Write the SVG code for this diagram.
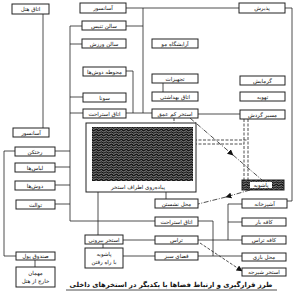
<svg xmlns="http://www.w3.org/2000/svg" width="300" height="294" viewBox="0 0 300 294">
<defs>
<style>
.b{fill:#fff;stroke:#222;stroke-width:1}
.t{font-family:"DejaVu Sans",sans-serif;font-size:5.5px;fill:#111;text-anchor:middle;direction:rtl}
.c{fill:none;stroke:#222;stroke-width:0.8}
.d{fill:none;stroke:#222;stroke-width:0.8;stroke-dasharray:3 1.5}
.dd{fill:none;stroke:#222;stroke-width:0.8;stroke-dasharray:5 1.5 1 1.5}
</style>
<pattern id="water" width="5" height="2.5" patternUnits="userSpaceOnUse">
<rect width="5" height="2.5" fill="#111"/>
<path d="M0,1.25 L1.25,0.6 L2.5,1.25 L3.75,1.9 L5,1.25" fill="none" stroke="#fff" stroke-width="0.6"/>
</pattern>
<marker id="ah" viewBox="0 0 10 10" refX="9" refY="5" markerWidth="6" markerHeight="6" orient="auto" markerUnits="userSpaceOnUse">
<path d="M0,0 L10,5 L0,10 z" fill="#111"/>
</marker>
<marker id="dot" viewBox="0 0 10 10" refX="5" refY="5" markerWidth="4" markerHeight="4" markerUnits="userSpaceOnUse">
<circle cx="5" cy="5" r="5" fill="#111"/>
</marker>
</defs>
<rect width="300" height="294" fill="#fff"/>

<g id="connectors">
<path class="c" d="M126,8 H239"/>
<path class="c" d="M285,8 H292 V201 H287"/>
<path class="c" d="M43,14 V128"/>
<path class="c" d="M70,26 V221 H155"/>
<path class="c" d="M70,26 H82 M70,44 H82 M70,97 H83 M70,113 H83"/>
<path class="c" d="M55,151 H70 M55,167 H70 M55,185 H70 M55,204 H70"/>
<path class="c" d="M143,8 V113 M126,26 H143"/>
<path class="c" d="M126,71 H133 V113 M126,113 H152"/>
<path class="c" d="M163,83 V92"/>
<path class="c" d="M198,114 H240"/>
<path class="d" d="M174,118 V157" marker-end="url(#dot)"/>
<path class="d" d="M244,119 V180 M248,119 V180 M194,140 H248 M194,144 H244"/>
<path class="dd" d="M190,118 L233,155" marker-end="url(#ah)"/>
<path class="dd" d="M233,155 L262,180"/>
<path class="dd" d="M250,190 L226,197" marker-end="url(#ah)"/>
<path class="dd" d="M226,197 L198,204"/>
<path class="c" d="M166,192 V199 M98,192 V235 M103,244 V248"/>
<path class="c" d="M123,240 H155 M123,256 H155"/>
<path class="c" d="M35,260 V267"/>
<path class="c" d="M15,151 H4 V256 H16"/>
<path class="c" d="M242,204 H228 V240 M228,222 H242 M198,240 H242 M198,256 H242"/>
<path class="c" d="M198,221 H213 V256"/>
<path class="d" d="M200,243 L242,271" marker-end="url(#ah)"/>
</g>

<g id="pool">
<rect class="b" x="86" y="123" width="110" height="69"/>
<rect x="92" y="127" width="101" height="54" fill="url(#water)"/>
<text class="t" x="138" y="189">پیاده‌روی اطراف استخر</text>
</g>

<g id="hotel"><rect class="b" x="12" y="4" width="37" height="10"/><text class="t" x="30.5" y="11">اتاق هتل</text></g>
<g id="elev1"><rect class="b" x="80" y="3" width="46" height="10"/><text class="t" x="103" y="10">آسانسور</text></g>
<g id="reception"><rect class="b" x="239" y="3" width="46" height="10"/><text class="t" x="262" y="10">پذیرش</text></g>
<g id="tennis"><rect class="b" x="82" y="21" width="44" height="9"/><text class="t" x="104" y="27.5">سالن تنیس</text></g>
<g id="gym"><rect class="b" x="82" y="39" width="44" height="9"/><text class="t" x="104" y="45.5">سالن ورزش</text></g>
<g id="hair"><rect class="b" x="152" y="39" width="46" height="9"/><text class="t" x="175" y="45.5">آرایشگاه مو</text></g>
<g id="showerarea"><rect class="b" x="83" y="67" width="43" height="9"/><text class="t" x="104.5" y="73.5">محوطه دوش‌ها</text></g>
<g id="equip"><rect class="b" x="152" y="74" width="46" height="9"/><text class="t" x="175" y="80.5">تجهیزات</text></g>
<g id="heating"><rect class="b" x="240" y="76" width="45" height="9"/><text class="t" x="262.5" y="82.5">گرمایش</text></g>
<g id="sauna"><rect class="b" x="83" y="93" width="43" height="9"/><text class="t" x="104.5" y="99.5">سونا</text></g>
<g id="sanitary"><rect class="b" x="152" y="92" width="46" height="9"/><text class="t" x="175" y="98.5">اتاق بهداشتی</text></g>
<g id="ventil"><rect class="b" x="240" y="92" width="45" height="9"/><text class="t" x="262.5" y="98.5">تهویه</text></g>
<g id="rest1"><rect class="b" x="83" y="109" width="43" height="9"/><text class="t" x="104.5" y="115.5">اتاق استراحت</text></g>
<g id="shallow"><rect class="b" x="152" y="109" width="46" height="9"/><text class="t" x="175" y="115.5">استخر کم عمق</text></g>
<g id="circ"><rect class="b" x="240" y="110" width="45" height="9"/><text class="t" x="262.5" y="116.5">مسیر گردش</text></g>
<g id="elev2"><rect class="b" x="13" y="128" width="36" height="9"/><text class="t" x="31" y="134.5">آسانسور</text></g>
<g id="locker"><rect class="b" x="15" y="147" width="40" height="9"/><text class="t" x="35" y="153.5">رختکن</text></g>
<g id="clothes"><rect class="b" x="15" y="163" width="40" height="9"/><text class="t" x="35" y="169.5">لباس‌ها</text></g>
<g id="showers"><rect class="b" x="15" y="181" width="40" height="9"/><text class="t" x="35" y="187.5">دوش‌ها</text></g>
<g id="toilet"><rect class="b" x="16" y="200" width="39" height="9"/><text class="t" x="35.5" y="206.5">توالت</text></g>
<g id="footbath"><rect x="242" y="180" width="42" height="10" fill="url(#water)" stroke="#222" stroke-width="1"/><rect x="250" y="182" width="22" height="6" fill="#fff"/><text class="t" x="261" y="187">پاشویه</text></g>
<g id="seating"><rect class="b" x="155" y="199" width="43" height="9"/><text class="t" x="176.5" y="205.5">محل نشستن</text></g>
<g id="kitchen"><rect class="b" x="242" y="199" width="45" height="9"/><text class="t" x="264.5" y="205.5">آشپزخانه</text></g>
<g id="rest2"><rect class="b" x="155" y="217" width="43" height="9"/><text class="t" x="176.5" y="223.5">اتاق استراحت</text></g>
<g id="cafebar"><rect class="b" x="242" y="218" width="44" height="8"/><text class="t" x="264" y="224">کافه بار</text></g>
<g id="outdoor"><rect class="b" x="85" y="235" width="38" height="9"/><text class="t" x="104" y="241.5">استخر بیرونی</text></g>
<g id="terrace"><rect class="b" x="155" y="236" width="43" height="8"/><text class="t" x="176.5" y="242">تراس</text></g>
<g id="cafeterrace"><rect class="b" x="242" y="236" width="44" height="8"/><text class="t" x="264" y="242">کافه تراس</text></g>
<g id="walkfoot"><rect class="b" x="85" y="248" width="38" height="20"/><text class="t" x="104" y="256">پاشویه</text><text class="t" x="104" y="264">با راه رفتن</text></g>
<g id="green"><rect class="b" x="155" y="252" width="43" height="8"/><text class="t" x="176.5" y="258">فضای سبز</text></g>
<g id="play"><rect class="b" x="242" y="253" width="44" height="8"/><text class="t" x="264" y="259">محل بازی</text></g>
<g id="cashier"><rect class="b" x="16" y="252" width="39" height="8"/><text class="t" x="35.5" y="258">صندوق پول</text></g>
<g id="dive"><rect class="b" x="242" y="268" width="44" height="8"/><text class="t" x="264" y="274">استخر شیرجه</text></g>
<g id="guest"><rect class="b" x="16" y="267" width="39" height="20"/><text class="t" x="35.5" y="275">مهمان</text><text class="t" x="35.5" y="283">خارج از هتل</text></g>

<g id="title">
<text x="171" y="287" style="font-family:'DejaVu Sans',sans-serif;font-size:6.8px;font-weight:bold;text-anchor:middle;direction:rtl" fill="#111">طرز قرارگیری و ارتباط فضاها با یکدیگر در استخرهای داخلی</text>
<path class="c" d="M66,290 H277"/>
</g>
</svg>
